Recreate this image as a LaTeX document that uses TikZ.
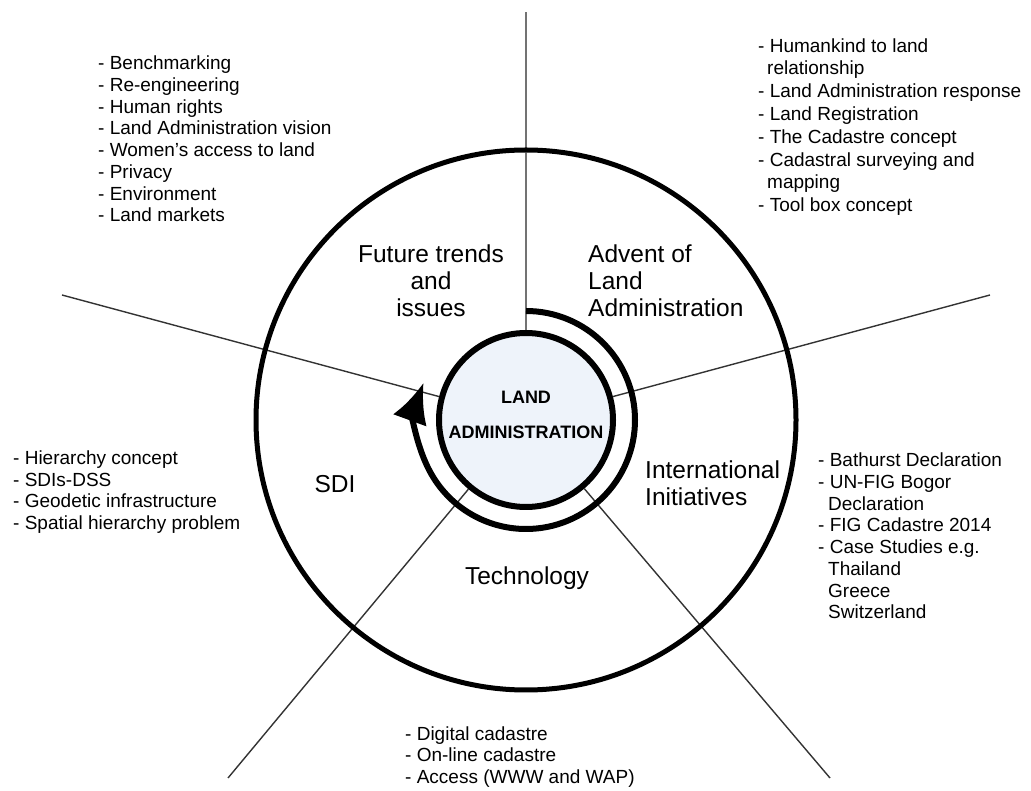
\documentclass[tikz,border=0pt]{standalone}
\usepackage{fontspec}
\setmainfont{Liberation Sans}
\usetikzlibrary{arrows.meta}
\definecolor{coreblue}{RGB}{238,243,250}

\begin{document}
\begin{tikzpicture}[x=1pt, y=1pt,
    spoke/.style={draw=black!80, line width=1.4pt},
    topic/.style={font=\fontsize{24.5}{27}\selectfont, inner sep=0pt},
    items/.style={font=\fontsize{19}{21.7}\selectfont, align=left, anchor=west, inner sep=0pt}]
  \useasboundingbox (0,0) rectangle (1031,790);
  \node [circle, draw, line width=6pt, fill=coreblue, minimum size=174pt, inner sep=0pt] (core) at (526,370) {};
  \coordinate (north) at (526,778);
  \coordinate (west) at (62,495);
  \coordinate (east) at (990,495);
  \coordinate (southwest) at (228,12);
  \coordinate (southeast) at (830,12);
  \draw [black!55, line width=2pt] (core) -- (north);
  \draw [spoke] (core) -- (west);
  \draw [spoke] (core) -- (east);
  \draw [spoke] (core) -- (southwest);
  \draw [spoke] (core) -- (southeast);
  \draw [line width=5pt] (core.center) circle (270pt);
  \draw [line width=6pt, -{Latex[length=40pt, width=36pt]}] (526,479) arc [start angle=90, end angle=-200, radius=109pt];
  \node [align=center, inner sep=0pt, font=\bfseries\fontsize{18}{35}\selectfont] (core text) at (526,375) {LAND\\ADMINISTRATION};
  \node [topic, align=center] (future) at (431,509) {Future trends\\and\\issues};
  \node [topic, align=left, anchor=west] (advent) at (588,509) {Advent of\\Land\\Administration};
  \node [topic, align=left, anchor=west] (intl) at (645,307) {International\\Initiatives};
  \node [topic] (sdi) at (335,306) {SDI};
  \node [topic] (tech) at (527,212) {Technology};
  \node [items] (future list) at (98,651) {- Benchmarking\\- Re-engineering\\- Human rights\\- Land Administration vision\\- Women's access to land\\- Privacy\\- Environment\\- Land markets};
  \node [items, font=\fontsize{19}{22.8}\selectfont] (advent list) at (758,663) {- Humankind to land\\\hspace*{9pt}relationship\\- Land Administration response\\- Land Registration\\- The Cadastre concept\\- Cadastral surveying and\\\hspace*{9pt}mapping\\- Tool box concept};
  \node [items] (intl list) at (818,254) {- Bathurst Declaration\\- UN-FIG Bogor\\\hspace*{10pt}Declaration\\- FIG Cadastre 2014\\- Case Studies e.g.\\\hspace*{10pt}Thailand\\\hspace*{10pt}Greece\\\hspace*{10pt}Switzerland};
  \node [items] (sdi list) at (13,298) {- Hierarchy concept\\- SDIs-DSS\\- Geodetic infrastructure\\- Spatial hierarchy problem};
  \node [items] (tech list) at (405,33) {- Digital cadastre\\- On-line cadastre\\- Access (WWW and WAP)};
\end{tikzpicture}
\end{document}
